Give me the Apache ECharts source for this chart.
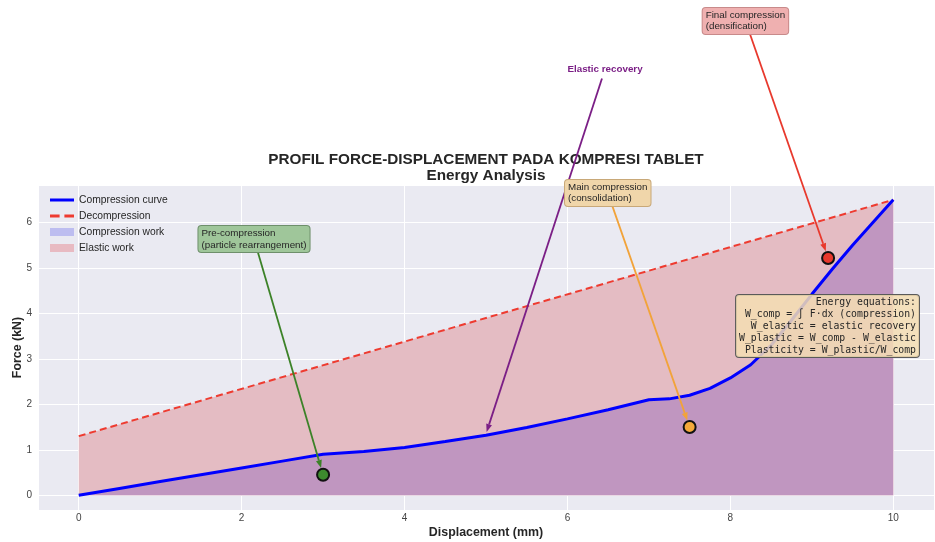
<!DOCTYPE html>
<html>
<head>
<meta charset="utf-8">
<script src="https://cdn.jsdelivr.net/npm/echarts/dist/echarts.min.js"></script>
<style>
html,body{margin:0;padding:0;background:#ffffff;}
#c{width:935px;height:542px;}
</style>
</head>
<body>
<div id="c"></div>
<script>
// ---------------- DATA ----------------
const titleLines = ['PROFIL FORCE-DISPLACEMENT PADA KOMPRESI TABLET', 'Energy Analysis'];
const xAxisTitle = 'Displacement (mm)';
const yAxisTitle = 'Force (kN)';
const xTicks = [0, 2, 4, 6, 8, 10];
const yTicks = [0, 1, 2, 3, 4, 5, 6];

const displacement = [0, 0.5, 1, 1.5, 2, 2.5, 3, 3.5, 4, 4.5, 5, 5.5, 6, 6.5, 7, 7.25, 7.5, 7.75, 8, 8.25, 8.5, 8.75, 9, 9.25, 9.5, 9.75, 10];
const compressionForce = [0, 0.15, 0.3, 0.45, 0.6, 0.75, 0.9, 0.96, 1.05, 1.18, 1.32, 1.49, 1.68, 1.88, 2.1, 2.12, 2.2, 2.35, 2.58, 2.87, 3.3, 3.85, 4.42, 4.97, 5.5, 6.0, 6.5];
const decompressionDisp = [0, 10];
const decompressionForce = [1.3, 6.5];

const keyPointDisp = [3, 7.5, 9.2];
const keyPointForce = [0.45, 1.5, 5.22];

const legendNames = ['Compression curve', 'Decompression', 'Compression work', 'Elastic work'];

const annotationTexts = ['Pre-compression\n(particle rearrangement)', 'Main compression\n(consolidation)', 'Final compression\n(densification)', 'Elastic recovery'];
const annotationTargetDisp = [3, 7.5, 9.2, 5.0];
const annotationTargetForce = [0.45, 1.5, 5.22, 1.35];
const annotationTextDisp = [1.47, 5.97, 7.66, 6.0];
const annotationTextForce = [5.636, 6.651, 10.434, 9.376];

const equationLines = ['Energy equations:', 'W_comp = \u222B F\u00B7dx (compression)', 'W_elastic = elastic recovery', 'W_plastic = W_comp - W_elastic', 'Plasticity = W_plastic/W_comp'];

// ---------------- STYLE ----------------
const FONT = '"Liberation Sans", Arial, Helvetica, sans-serif';
const MONO = '"DejaVu Sans Mono", monospace';
const TXT = '#262626';
const markerColors = ['#3D8B2E', '#F4A93A', '#E8382C'];
const annStyles = [
  {color: '#3C8228', box: true, bg: '#9FC69A', border: '#6E8F6B', textColor: '#262626', bold: false, shrink: 7},
  {color: '#F2A33A', box: true, bg: '#F0D6AA', border: '#C8A878', textColor: '#262626', bold: false, shrink: 7},
  {color: '#E8392D', box: true, bg: '#EFB0B0', border: '#C88A8A', textColor: '#262626', bold: false, shrink: 7},
  {color: '#7B1F86', box: false, textColor: '#7B1F86', bold: true, shrink: 2}
];

const chart = echarts.init(document.getElementById('c'), null, {renderer: 'canvas'});
const compData = displacement.map((x, i) => [x, compressionForce[i]]);
const decData = decompressionDisp.map((x, i) => [x, decompressionForce[i]]);

const option = {
  animation: false,
  backgroundColor: '#ffffff',
  title: {
    text: titleLines.join('\n'),
    left: 481, top: 147, textAlign: 'center',
    textStyle: {fontFamily: FONT, fontSize: 15.3, fontWeight: 'bold', color: TXT, lineHeight: 16}
  },
  grid: {left: 38, top: 185, width: 896, height: 325, show: true, backgroundColor: '#EAEAF2', borderWidth: 0,
    containLabel: false, outerBoundsMode: 'none'},
  legend: {
    orient: 'vertical', left: 50, top: 195, padding: 0,
    itemWidth: 24, itemHeight: 8, itemGap: 6,
    textStyle: {fontFamily: FONT, fontSize: 10.3, color: TXT, lineHeight: 10},
    selectedMode: false,
    data: [
      {name: legendNames[0], icon: 'path://M0,0H24V3H0Z', itemStyle: {color: '#0000FF', borderWidth: 0}},
      {name: legendNames[1], icon: 'path://M0,0H8V2.6H0Z M12,0H20V2.6H12Z', itemStyle: {color: '#EE3B30', borderWidth: 0}},
      {name: legendNames[2], icon: 'rect', itemStyle: {color: '#BDBDF0', borderWidth: 0}},
      {name: legendNames[3], icon: 'rect', itemStyle: {color: '#E8BAC2', borderWidth: 0}}
    ]
  },
  xAxis: {
    type: 'value', min: -0.5, max: 10.5, splitNumber: 5,
    name: xAxisTitle, nameLocation: 'middle', nameGap: 17, nameMoveOverlap: false,
    nameTextStyle: {fontFamily: FONT, fontSize: 12.4, fontWeight: 'bold', color: TXT},
    axisLine: {show: false}, axisTick: {show: false},
    axisLabel: {margin: 3, fontFamily: FONT, fontSize: 10, color: '#444', showMinLabel: false, showMaxLabel: false,
      formatter: v => xTicks.indexOf(v) >= 0 ? String(v) : ''},
    splitLine: {show: true, lineStyle: {color: '#ffffff', width: 1}}
  },
  yAxis: {
    type: 'value', min: -0.325, max: 6.825, splitNumber: 7,
    name: yAxisTitle, nameLocation: 'middle', nameGap: 14, nameMoveOverlap: false,
    nameTextStyle: {fontFamily: FONT, fontSize: 12.4, fontWeight: 'bold', color: TXT},
    axisLine: {show: false}, axisTick: {show: false},
    axisLabel: {margin: 6, fontFamily: FONT, fontSize: 10, color: '#444', showMinLabel: false, showMaxLabel: false,
      formatter: v => yTicks.indexOf(v) >= 0 ? String(v) : ''},
    splitLine: {show: true, lineStyle: {color: '#ffffff', width: 1}}
  },
  series: [
    {name: legendNames[3], type: 'line', data: decData, symbol: 'none', lineStyle: {width: 0}, itemStyle: {color: '#E8BAC2'},
     areaStyle: {color: '#E4BCC3', opacity: 1}, z: 1},
    {name: legendNames[2], type: 'line', data: compData, symbol: 'none', lineStyle: {width: 0}, itemStyle: {color: '#BDBDF0'},
     areaStyle: {color: '#C096C0', opacity: 1}, z: 2},
    {name: legendNames[1], type: 'line', data: decData, symbol: 'none', itemStyle: {color: '#EE3B30'},
     lineStyle: {color: '#EE3B30', width: 2, type: [7, 4]}, z: 3},
    {name: legendNames[0], type: 'line', data: compData, symbol: 'none', itemStyle: {color: '#0000FF'},
     lineStyle: {color: '#0000FF', width: 3}, z: 4},
    {name: 'Key points', type: 'scatter', symbolSize: 12, z: 5,
     itemStyle: {borderColor: '#111111', borderWidth: 2, opacity: 1},
     data: keyPointDisp.map((x, i) => ({value: [x, keyPointForce[i]], itemStyle: {color: markerColors[i]}}))}
  ]
};
chart.setOption(option);

// ---------------- ANNOTATIONS ----------------
const toPx = p => chart.convertToPixel({gridIndex: 0}, p);
const ctx = document.createElement('canvas').getContext('2d');
function measure(lines, font) { ctx.font = font; return Math.max.apply(null, lines.map(l => ctx.measureText(l).width)); }

const graphics = [];
annotationTexts.forEach((text, i) => {
  const st = annStyles[i];
  const lines = text.split('\n');
  const font = (st.bold ? 'bold ' : '') + '9.8px ' + FONT;
  const lh = 11.5;
  const padX = st.box ? 3 : 0, padY = st.box ? 1.5 : 0;
  const w = measure(lines, font);
  const tp = toPx([annotationTextDisp[i], annotationTextForce[i]]);
  const boxL = tp[0], boxR = tp[0] + w + 2 * padX;
  const h = lines.length * lh + 2 * padY;
  const boxT = tp[1] - h / 2, boxB = tp[1] + h / 2;
  const cx = (boxL + boxR) / 2, cy = tp[1];
  const tg = toPx([annotationTargetDisp[i], annotationTargetForce[i]]);
  const dx = tg[0] - cx, dy = tg[1] - cy;
  const tX = dx !== 0 ? ((dx > 0 ? boxR : boxL) - cx) / dx : Infinity;
  const tY = dy !== 0 ? ((dy > 0 ? boxB : boxT) - cy) / dy : Infinity;
  const t0 = Math.min(tX, tY) + (st.box ? 0 : 0.01);
  const sx = cx + dx * t0, sy = cy + dy * t0;
  const len = Math.hypot(dx, dy);
  const ux = dx / len, uy = dy / len;
  const ex = tg[0] - ux * st.shrink, ey = tg[1] - uy * st.shrink;
  const head = 8, hw = 3;
  const bx = ex - ux * head, by = ey - uy * head;
  graphics.push({type: 'line', z: 100, silent: true,
    shape: {x1: sx, y1: sy, x2: bx, y2: by}, style: {stroke: st.color, lineWidth: 1.8}});
  graphics.push({type: 'polygon', z: 100, silent: true,
    shape: {points: [[ex, ey], [bx - uy * hw, by + ux * hw], [bx + uy * hw, by - ux * hw]]},
    style: {fill: st.color}});
  const ts = {text: text, font: font, fill: st.textColor, align: 'left', verticalAlign: 'middle', lineHeight: lh};
  if (st.box) {
    ts.backgroundColor = st.bg; ts.borderColor = st.border; ts.borderWidth = 1; ts.borderRadius = 3; ts.padding = [padY, padX];
  }
  graphics.push({type: 'text', z: 101, silent: true, x: tp[0], y: tp[1], style: ts});
});

graphics.push({type: 'text', z: 102, silent: true, x: 919, y: 295,
  style: {text: equationLines.join('\n'), font: '9.8px ' + MONO, fill: TXT, align: 'right', verticalAlign: 'top',
    lineHeight: 12, backgroundColor: 'rgba(245,222,179,0.85)', borderColor: '#5a5a5a', borderWidth: 1, borderRadius: 3,
    padding: [1, 3]}});

chart.setOption({graphic: graphics});
</script>
</body>
</html>
